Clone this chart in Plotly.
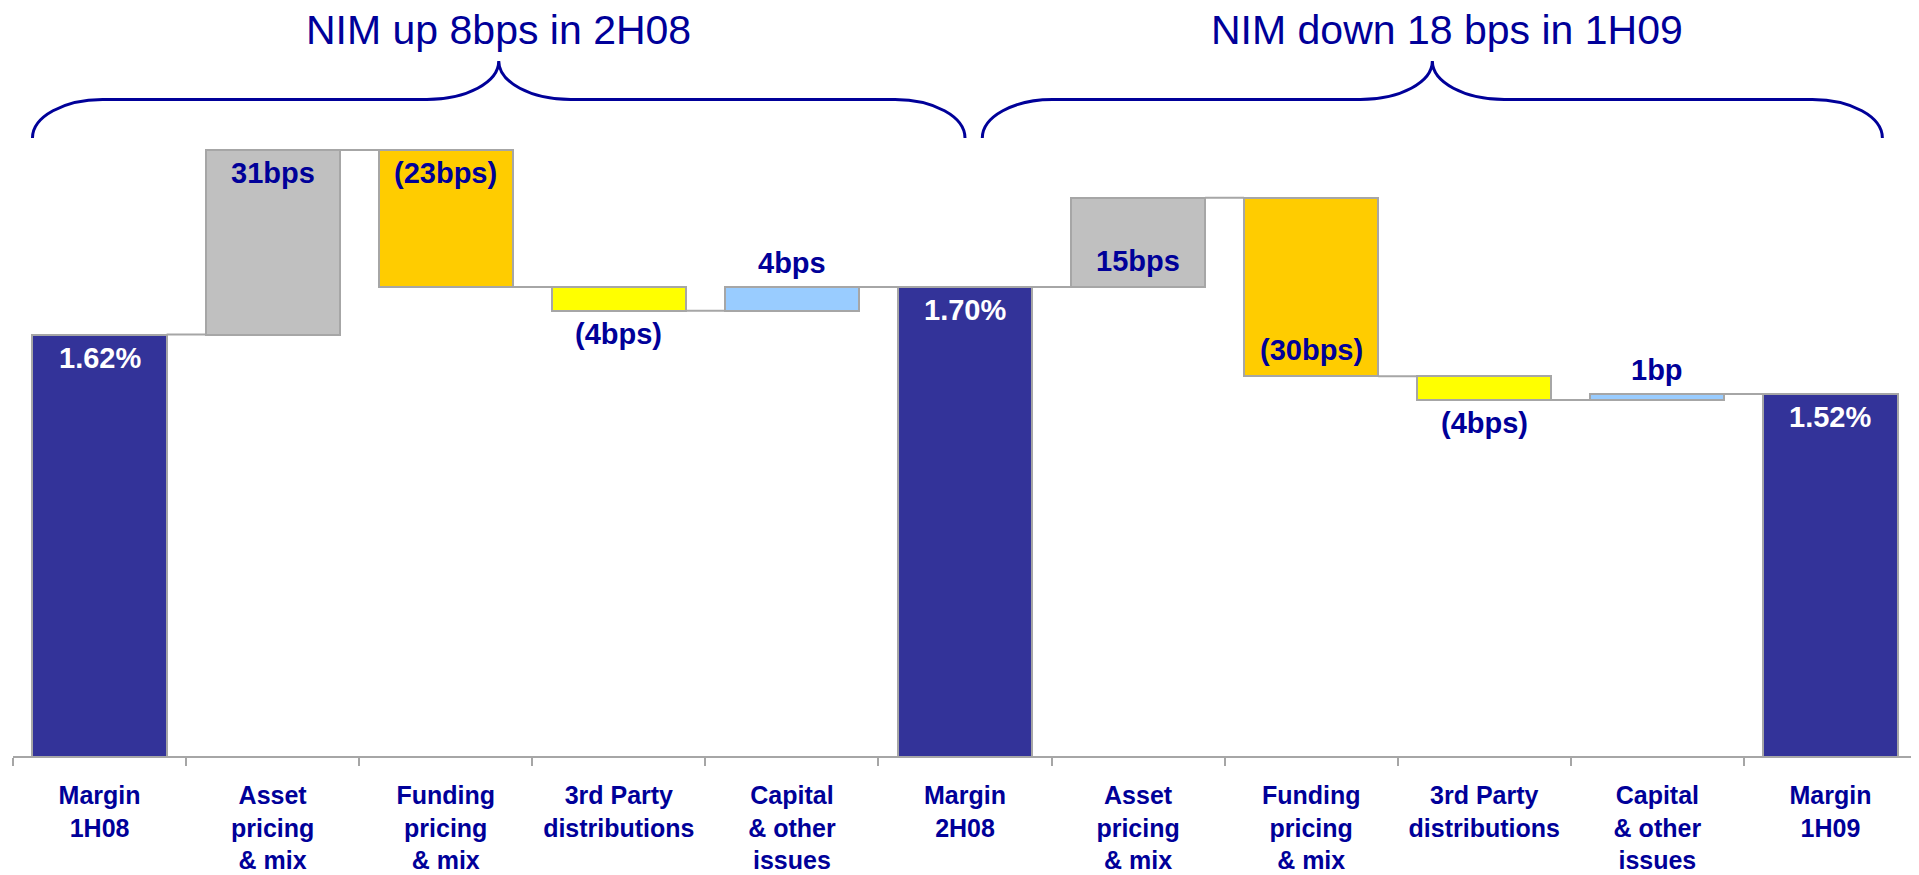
import plotly.graph_objects as go

# ---------------- data ----------------
categories = [
    "Margin<br>1H08", "Asset<br>pricing<br>& mix", "Funding<br>pricing<br>& mix",
    "3rd Party<br>distributions", "Capital<br>& other<br>issues", "Margin<br>2H08",
    "Asset<br>pricing<br>& mix", "Funding<br>pricing<br>& mix",
    "3rd Party<br>distributions", "Capital<br>& other<br>issues", "Margin<br>1H09",
]
kinds = ["total", "asset", "funding", "third", "capital", "total",
         "asset", "funding", "third", "capital", "total"]
values = [1.62, 0.31, -0.23, -0.04, 0.04, 1.70, 0.15, -0.30, -0.04, 0.01, 1.52]
value_labels = ["1.62%", "31bps", "(23bps)", "(4bps)", "4bps", "1.70%",
                "15bps", "(30bps)", "(4bps)", "1bp", "1.52%"]
group_titles = ["NIM up 8bps in 2H08", "NIM down 18 bps in 1H09"]

# ---------------- styling ----------------
FONT = "Liberation Sans, Arial, Helvetica, sans-serif"
NAVY_TEXT = "#000099"
GRID_GRAY = "#A6A6A6"
kind_colors = {
    "total": "#333399", "asset": "#C0C0C0", "funding": "#FFCC00",
    "third": "#FFFF00", "capital": "#99CCFF",
}
label_place = ["in_top", "in_top", "in_top", "below", "above", "in_top",
               "in_bottom", "in_bottom", "below", "above", "in_top"]
place_shift = {"in_top": -23, "in_bottom": 26, "above": 24, "below": -23}
BAR_W = 0.775

W, H = 1919, 875
PAGE_OFF = 8                      # default body margin of the html page
M_L, M_T = 13 - PAGE_OFF, 110 - PAGE_OFF
PLOT_W, PLOT_H = 1904, 646
M_R = W - M_L - PLOT_W
M_B = H - M_T - PLOT_H
Y_RANGE = [0.9116, 1.9973]
PX_PER_CAT = PLOT_W / len(categories)

# ---------------- waterfall geometry from data ----------------
bases, heights, levels = [], [], []
level = 0.0
for k, v in zip(kinds, values):
    if k == "total":
        bases.append(0.0)
        level = v
    else:
        bases.append(level)
        level = level + v
    heights.append(v)
    levels.append(round(level, 6))

idx = list(range(len(categories)))
colors = [kind_colors[k] for k in kinds]

fig = go.Figure()
fig.add_trace(go.Bar(
    x=idx, y=heights, base=bases, width=BAR_W,
    marker=dict(color=colors, line=dict(color=GRID_GRAY, width=2)),
    hoverinfo="skip", showlegend=False,
))

# connectors
cx, cy = [], []
for i in range(len(idx) - 1):
    cx += [idx[i] + BAR_W / 2, idx[i + 1] - BAR_W / 2, None]
    cy += [levels[i], levels[i], None]
fig.add_trace(go.Scatter(
    x=cx, y=cy, mode="lines", line=dict(color=GRID_GRAY, width=2),
    hoverinfo="skip", showlegend=False,
))

# value labels
for i, txt in enumerate(value_labels):
    lo = min(bases[i], bases[i] + heights[i])
    hi = max(bases[i], bases[i] + heights[i])
    p = label_place[i]
    yv = hi if p in ("in_top", "above") else lo
    col = "white" if kinds[i] == "total" else NAVY_TEXT
    fig.add_annotation(
        x=idx[i], y=yv, xref="x", yref="y", text=f"<b>{txt}</b>",
        showarrow=False, yanchor="middle", xanchor="center",
        yshift=place_shift[p],
        font=dict(family=FONT, size=29, color=col),
    )

# braces + group titles
def py2paper(page_py):
    return (M_T + PLOT_H - (page_py - PAGE_OFF)) / PLOT_H

def brace_path(xl, xr, y_end, y_bar, y_peak, cw_px=70, pw_px=72, k=0.552):
    cw = cw_px / PX_PER_CAT
    pw = pw_px / PX_PER_CAT
    xc = (xl + xr) / 2
    yE, yB, yP = py2paper(y_end), py2paper(y_bar), py2paper(y_peak)
    return (
        f"M {xl},{yE} "
        f"C {xl},{yE + k*(yB-yE)} {xl + cw - k*cw},{yB} {xl + cw},{yB} "
        f"L {xc - pw},{yB} "
        f"C {xc - pw + k*pw},{yB} {xc},{yP - k*(yP-yB)} {xc},{yP} "
        f"C {xc},{yP - k*(yP-yB)} {xc + pw - k*pw},{yB} {xc + pw},{yB} "
        f"L {xr - cw},{yB} "
        f"C {xr - cw + k*cw},{yB} {xr},{yE + k*(yB-yE)} {xr},{yE}"
    )

brace_spans = [(-BAR_W / 2, 5.0), (5.1, 10.3)]
title_xshift = [0, 15]
for (xl, xr), title, xs in zip(brace_spans, group_titles, title_xshift):
    fig.add_shape(
        type="path", xref="x", yref="paper",
        path=brace_path(xl, xr, 138, 99.5, 61),
        line=dict(color=NAVY_TEXT, width=3), fillcolor="rgba(0,0,0,0)",
        layer="above",
    )
    fig.add_annotation(
        x=(xl + xr) / 2, y=py2paper(30), xref="x", yref="paper",
        text=title, showarrow=False, xanchor="center", yanchor="middle",
        xshift=xs, font=dict(family=FONT, size=41, color=NAVY_TEXT),
    )

fig.update_layout(
    width=W, height=H,
    margin=dict(l=M_L, r=M_R, t=M_T, b=M_B, pad=0),
    paper_bgcolor="white", plot_bgcolor="white",
    showlegend=False, bargap=0,
    xaxis=dict(
        range=[-0.5, len(categories) - 0.5], tickmode="array",
        tickvals=idx, ticktext=categories, ticks="",
        showline=True, linecolor=GRID_GRAY, linewidth=2,
        showgrid=False, zeroline=False, automargin=False,
        ticklabelstandoff=16,
        tickfont=dict(family=FONT, size=25, color=NAVY_TEXT, weight="bold"),
        minor=dict(tickmode="array", tickvals=[i - 0.5 for i in range(len(categories) + 1)],
                   ticks="outside", ticklen=8, tickwidth=2, tickcolor=GRID_GRAY,
                   showgrid=False),
    ),
    yaxis=dict(range=Y_RANGE, visible=False, showgrid=False, zeroline=False,
               automargin=False),
)

fig.write_html("out.html")
